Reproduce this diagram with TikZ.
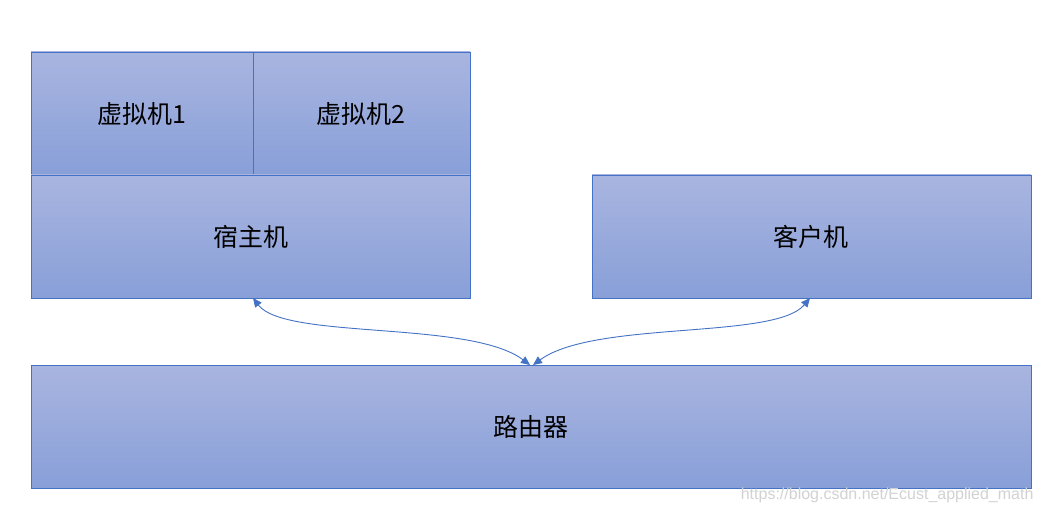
\documentclass[tikz,border=0pt]{standalone}
\usepackage{fontspec}
\newfontfamily\cjk{Noto Sans CJK SC}
\newfontfamily\wm{Liberation Sans}
\usetikzlibrary{arrows.meta}
\definecolor{edge}{HTML}{4472C4}
\definecolor{topc}{HTML}{A9B5E0}
\definecolor{botc}{HTML}{889FD8}
\tikzset{
  box/.style={draw=edge, line width=0.8pt, top color=topc, bottom color=botc, rectangle, inner sep=0pt},
  lbl/.style={font=\cjk\fontsize{25}{30}\selectfont, text=black},
  link/.style={draw=edge, line width=0.9pt, {Triangle[width=8pt,length=9pt]}-{Triangle[width=8pt,length=9pt]}}
}
\begin{document}
\begin{tikzpicture}[x=1pt,y=-1pt]
\useasboundingbox (0,0) rectangle (1046,513);
\fill[white] (0,0) rectangle (1046,513);
% boxes
\draw[box] (31,52) rectangle (253,175);
\draw[box] (253,52) rectangle (470,175);
\draw[box] (31,175) rectangle (470,298);
\draw[box] (592,175) rectangle (1031,298);
\draw[box] (31,365) rectangle (1031,488);
% labels
\node[lbl] (vm1) at (142,114) {虚拟机1};
\node[lbl] (vm2) at (361,114) {虚拟机2};
\node[lbl] (host) at (251,237) {宿主机};
\node[lbl] (client) at (811,237) {客户机};
\node[lbl] (router) at (531,427) {路由器};
% anchor points
\coordinate (hb) at (253,298);
\coordinate (cb) at (810,298);
\coordinate (r1) at (530,365);
\coordinate (r2) at (533,365);
\draw[link] (hb) .. controls (285,340) and (470,320) .. (r1);
\draw[link] (cb) .. controls (775,340) and (595,320) .. (r2);
% watermark
\node[font=\wm\fontsize{16}{19}\selectfont, text=gray!35, anchor=east] (wmk) at (1037,495) {https://blog.csdn.net/Ecust\_applied\_math};
\end{tikzpicture}
\end{document}
